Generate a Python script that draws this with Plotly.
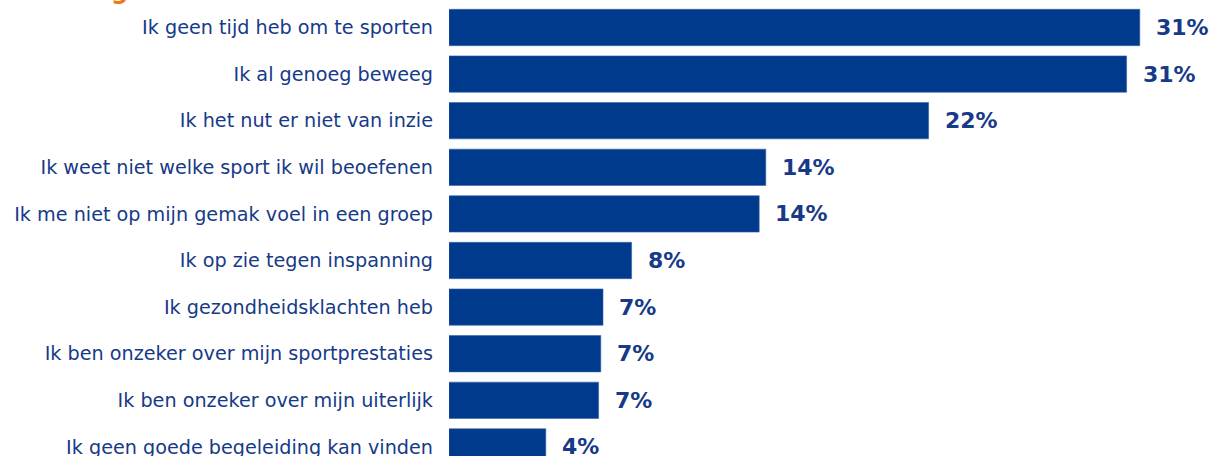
import plotly.graph_objects as go

categories = [
    "Ik geen tijd heb om te sporten",
    "Ik al genoeg beweeg",
    "Ik het nut er niet van inzie",
    "Ik weet niet welke sport ik wil beoefenen",
    "Ik me niet op mijn gemak voel in een groep",
    "Ik op zie tegen inspanning",
    "Ik gezondheidsklachten heb",
    "Ik ben onzeker over mijn sportprestaties",
    "Ik ben onzeker over mijn uiterlijk",
    "Ik geen goede begeleiding kan vinden",
]
values = [31.4, 30.8, 21.8, 14.4, 14.1, 8.3, 7.0, 6.9, 6.8, 4.4]
value_labels = ["31%", "31%", "22%", "14%", "14%", "8%", "7%", "7%", "7%", "4%"]

BAR = "#003a8c"
TXT = "#163a88"

fig = go.Figure(go.Bar(
    x=values, y=categories, orientation="h",
    marker=dict(color=BAR, line=dict(color="#3a63a8", width=0.6)),
    hoverinfo="skip",
))

for c, v, t in zip(categories, values, value_labels):
    fig.add_annotation(x=v, y=c, text=f"<b>{t}</b>", showarrow=False,
                       xanchor="left", yanchor="middle", xshift=14,
                       font=dict(family="DejaVu Sans", size=22, color=TXT))

# cropped orange title fragment at the top
fig.add_annotation(xref="paper", yref="paper", x=0, y=1, text="<b>g</b>",
                   showarrow=False, xanchor="left", yanchor="bottom",
                   xshift=-340, yshift=-7,
                   font=dict(family="DejaVu Sans", size=24, color="#f07a10"))

fig.update_layout(
    width=1215, height=456,
    margin=dict(l=449, r=0, t=0, b=0),
    paper_bgcolor="white", plot_bgcolor="white",
    bargap=0.22,
    showlegend=False,
    font=dict(family="DejaVu Sans", size=19.2, color=TXT),
    xaxis=dict(range=[0, 766 / 22.0], visible=False, showgrid=False, zeroline=False,
               automargin=False),
    yaxis=dict(range=[9.195, -0.59], type="category", showgrid=False, zeroline=False,
               showline=False, ticks="", ticklabelstandoff=15, automargin=False,
               tickfont=dict(family="DejaVu Sans", size=19.2, color=TXT)),
)

fig.write_html("out.html",
               config={"displayModeBar": False},
               post_script="document.body.style.margin='0';document.body.style.overflow='hidden';")
